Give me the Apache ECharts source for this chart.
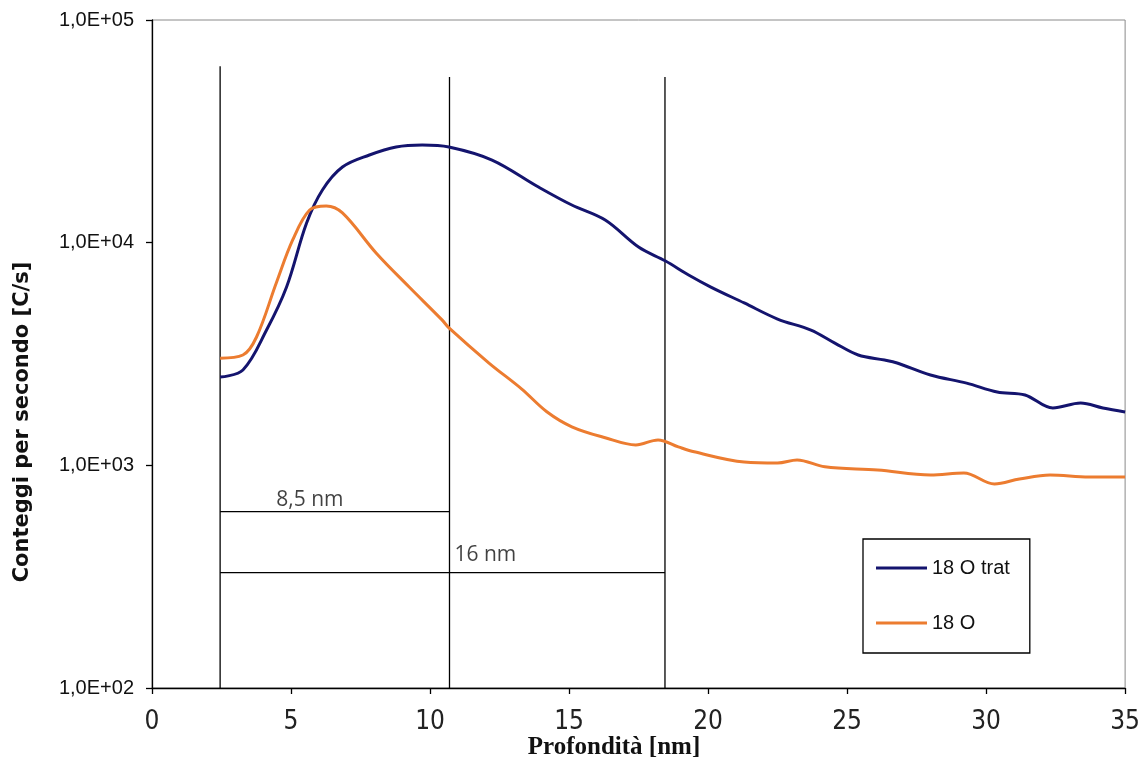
<!DOCTYPE html>
<html>
<head>
<meta charset="utf-8">
<script src="https://cdn.jsdelivr.net/npm/echarts@6/dist/echarts.min.js"></script>
<style>
  html, body { margin: 0; padding: 0; background: #fff; }
  #chart { width: 1143px; height: 765px; }
</style>
</head>
<body>
<div id="chart"></div>
<script>
// Depth profile of 18O counts (treated vs untreated)
const depthTrat = [2.45, 3.27, 4.12, 4.84, 5.56, 6.13, 6.85, 7.82, 8.78, 9.72, 10.68, 12.23, 13.9, 15.1, 16.3, 17.5, 18.47, 19.3, 20.1, 21.3, 22.5, 23.7, 24.56, 25.4, 26.35, 26.8, 28.0, 29.3, 30.4, 31.4, 32.4, 33.4, 34.2, 35];
const countsTrat = [2490, 2680, 4050, 6320, 12250, 17250, 21870, 24760, 26900, 27460, 26900, 23500, 17780, 14760, 12640, 9560, 8270, 7160, 6320, 5360, 4540, 4050, 3540, 3130, 2970, 2880, 2545, 2340, 2135, 2070, 1810, 1905, 1810, 1737];

const depthO = [2.45, 3.27, 3.76, 4.47, 5.06, 5.67, 6.27, 6.85, 8.06, 9.25, 10.43, 10.68, 12.12, 13.3, 14.2, 15.1, 16.3, 17.4, 18.2, 18.93, 19.5, 21.3, 22.5, 23.2, 24.2, 26.1, 28.0, 29.2, 30.3, 31.2, 32.3, 33.7, 35];
const countsO = [3030, 3130, 3770, 6590, 10280, 14020, 14620, 13600, 8990, 6320, 4500, 4140, 2880, 2200, 1740, 1490, 1330, 1235, 1300, 1210, 1150, 1035, 1025, 1057, 985, 953, 905, 924, 825, 868, 905, 887, 887];

const seriesNames = ['18 O trat', '18 O'];

// Reference markers: depth positions and heights of the guide lines
const markerDepths = [2.45, 10.7, 18.45];
const markerTops = [62000, 55500, 55500];
const spanLevels = [619, 330];          // counts level of the two span bars
const spanEnds = [10.7, 18.45];         // right end of each span bar
const spanLabels = ['8,5 nm', '16 nm'];
const spanLabelPos = [[5.68, 700, 'center'], [10.88, 395, 'left']];

const xTicks = { min: 0, max: 35, interval: 5 };
const yRange = { min: 100, max: 100000 };

const black = '#000';
const series = [];

markerDepths.forEach(function (d, i) {
  series.push({
    type: 'line', silent: true, symbol: 'none', z: 3,
    lineStyle: { color: black, width: 1.3 },
    data: [[d, yRange.min], [d, markerTops[i]]]
  });
});
spanLevels.forEach(function (lvl, i) {
  series.push({
    type: 'line', silent: true, symbol: 'none', z: 3,
    lineStyle: { color: black, width: 1.3 },
    data: [[markerDepths[0], lvl], [spanEnds[i], lvl]]
  });
});
series.push({
  type: 'scatter', silent: true, symbolSize: 0, z: 4,
  data: spanLabels.map(function (t, i) {
    return {
      name: t,
      value: [spanLabelPos[i][0], spanLabelPos[i][1]],
      label: { align: spanLabelPos[i][2] }
    };
  }),
  label: {
    show: true, position: 'inside', formatter: '{b}',
    fontFamily: 'Open Sans', fontSize: 21, color: '#111'
  }
});

series.push({
  name: seriesNames[0], type: 'line', symbol: 'none', smooth: 0.35, z: 5,
  lineStyle: { color: '#14146e', width: 3 },
  itemStyle: { color: '#14146e' },
  data: depthTrat.map(function (d, i) { return [d, countsTrat[i]]; })
});
series.push({
  name: seriesNames[1], type: 'line', symbol: 'none', smooth: 0.35, z: 5,
  lineStyle: { color: '#ec7c30', width: 3 },
  itemStyle: { color: '#ec7c30' },
  data: depthO.map(function (d, i) { return [d, countsO[i]]; })
});

const chart = echarts.init(document.getElementById('chart'), null, { renderer: 'canvas' });
chart.setOption({
  animation: false,
  backgroundColor: '#fff',
  grid: {
    left: 152, top: 20, right: 15, bottom: 77,
    show: true, borderColor: '#8a8a8a', borderWidth: 1, backgroundColor: '#fff'
  },
  legend: {
    data: seriesNames,
    orient: 'vertical',
    left: 863, top: 539,
    padding: [19, 20, 20, 13],
    itemGap: 35,
    itemWidth: 51, itemHeight: 3,
    icon: 'rect',
    borderColor: '#000', borderWidth: 1.3,
    backgroundColor: '#fff',
    textStyle: { fontFamily: 'Liberation Sans', fontSize: 20, color: '#111', lineHeight: 20 }
  },
  xAxis: {
    type: 'value', min: xTicks.min, max: xTicks.max, interval: xTicks.interval,
    axisLine: { onZero: false, lineStyle: { color: black, width: 1.3 } },
    axisTick: { show: true, length: 6, lineStyle: { color: black, width: 1.3 } },
    axisLabel: {
      margin: 21, fontFamily: 'Liberation Sans Narrow, DejaVu Sans Condensed, sans-serif',
      fontSize: 26, color: '#222'
    },
    splitLine: { show: false }
  },
  yAxis: {
    type: 'log', logBase: 10, min: yRange.min, max: yRange.max,
    axisLine: { show: true, lineStyle: { color: black, width: 1.3 } },
    axisTick: { show: true, length: 6, lineStyle: { color: black, width: 1.3 } },
    axisLabel: {
      margin: 18, fontFamily: 'Liberation Sans', fontSize: 20, color: '#111',
      formatter: function (v) {
        const e = Math.round(Math.log10(v));
        return '1,0E+' + String(e).padStart(2, '0');
      }
    },
    splitLine: { show: false }
  },
  graphic: [
    {
      type: 'text',
      style: {
        text: 'Profondità [nm]', x: 614, y: 748,
        font: 'bold 25px "Liberation Serif"', fill: '#111',
        textAlign: 'center', textVerticalAlign: 'middle'
      }
    },
    {
      type: 'text', x: 23, y: 422, rotation: Math.PI / 2,
      style: {
        text: 'Conteggi per secondo [C/s]',
        font: 'bold 21px "DejaVu Sans"', fill: '#111',
        textAlign: 'center', textVerticalAlign: 'middle'
      }
    }
  ],
  series: series
});
</script>
</body>
</html>
